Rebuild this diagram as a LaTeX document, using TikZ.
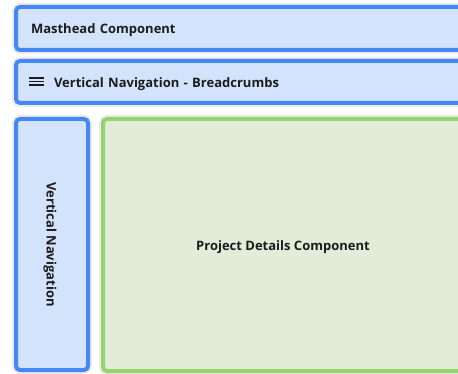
\documentclass[tikz,border=0pt]{standalone}
\usepackage{fontspec}
\setmainfont{Open Sans}
\usetikzlibrary{calc,positioning}
\definecolor{navblue}{HTML}{4388F5}
\definecolor{navfill}{HTML}{D3E3FB}
\definecolor{bodygreen}{HTML}{95D46C}
\definecolor{bodyfill}{HTML}{E1EDD8}
\definecolor{ink}{HTML}{1C1C1C}
\tikzset{
  panelfont/.style={text=ink,font=\bfseries\fontsize{13}{15}\selectfont,text height=11pt,text depth=0pt},
  panel/.style={draw=navblue,fill=navfill,line width=4pt,rounded corners=4pt,
    preaction={draw=black!8,line width=8pt},panelfont},
  bodypanel/.style={panel,draw=bodygreen,fill=bodyfill}
}
% three bars of the menu icon, left end at (#1)
\newcommand{\burger}[1]{\foreach \dy in {-3.6,0,3.6}{\draw[ink,line width=1.6pt] ($(#1)+(0,\dy)$)--++(15,0);}}

\begin{document}
\begin{tikzpicture}[x=1pt,y=-1pt]
\clip (0,0) rectangle (458,374);
\fill[white] (0,0) rectangle (458,374);
\node[panel,minimum width=454pt,minimum height=43pt,text width=424pt,inner xsep=15pt,align=left] (masthead) at (243,28.5) {Masthead Component};
\node[panel,minimum width=454pt,minimum height=42pt,text width=378pt,inner xsep=38pt,align=left] (crumbs) at (243,82) {Vertical Navigation - Breadcrumbs};
\coordinate (menuicon) at ($(crumbs.west)+(15,-0.5)$);
\burger{menuicon}
\node[panel,minimum width=72pt,minimum height=251pt] (vnav) at (52,244.5) {};
\node[bodypanel,minimum width=360pt,minimum height=252pt] (details) at (283,245) {Project Details Component};
\node[panelfont,rotate=-90] (vnavtext) at (vnav.center) {Vertical Navigation};
\end{tikzpicture}
\end{document}
